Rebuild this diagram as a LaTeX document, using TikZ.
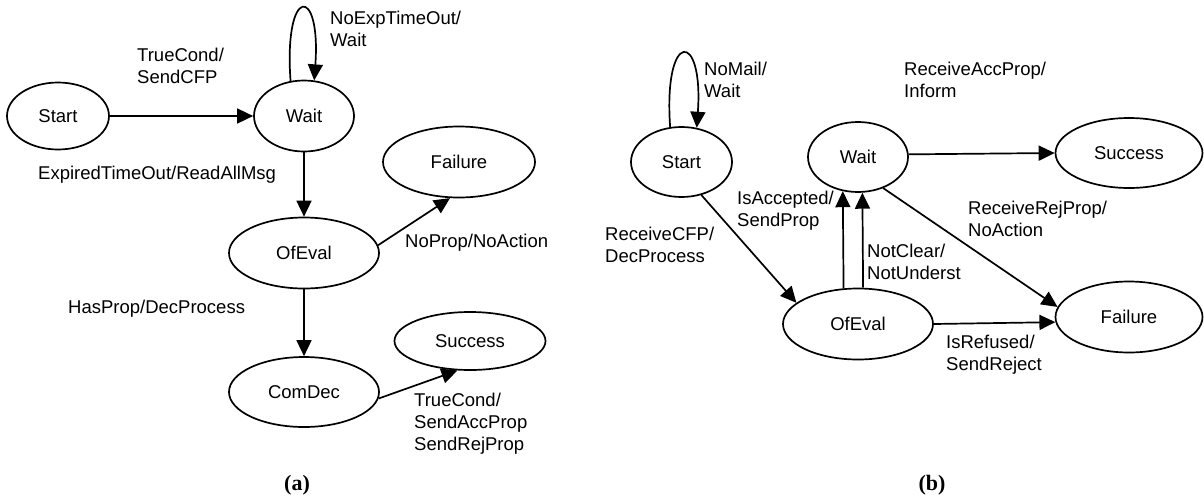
\documentclass[tikz,border=0pt]{standalone}
\usepackage{fontspec}
\setmainfont{Liberation Sans}
\newfontfamily\capfont{Liberation Serif}
\usetikzlibrary{shapes.geometric,arrows.meta}
\begin{document}
\begin{tikzpicture}[x=1pt,y=-1pt,
  state/.style={draw,ellipse,line width=1.7pt,inner sep=0pt,font=\fontsize{18.5}{22}\selectfont},
  lbl/.style={anchor=west,align=left,inner sep=0pt,font=\fontsize{18.5}{22}\selectfont},
  captext/.style={inner sep=0pt,font=\capfont\bfseries\fontsize{22}{26}\selectfont},
  arr/.style={line width=1.7pt,-{Triangle[length=16pt,width=15pt]}}]
\useasboundingbox (0,0) rectangle (1204,498);
% ---------- (a) ----------
\node[state,minimum width=102pt,minimum height=67pt] (aStart) at (58,116) {Start};
\node[state,minimum width=100pt,minimum height=71pt] (aWait) at (304,116) {Wait};
\node[state,minimum width=150pt,minimum height=71pt] (aOfEval) at (304,253) {OfEval};
\node[state,minimum width=152pt,minimum height=71pt] (aFailure) at (459,162) {Failure};
\node[state,minimum width=150pt,minimum height=70pt] (aComDec) at (304,392) {ComDec};
\node[state,minimum width=151pt,minimum height=58pt] (aSuccess) at (470,341) {Success};
\draw[arr] (aStart) -- (aWait);
\draw[arr] (aWait.111) .. controls +(-7,-96) and +(7,-96) .. (aWait.74);
\draw[arr] (aWait) -- (aOfEval);
\draw[arr] (aOfEval.6) -- (aFailure.256);
\draw[arr] (aOfEval) -- (aComDec);
\draw[arr] (aComDec.355) -- (aSuccess.247);
\node[lbl] (la1) at (137,66) {TrueCond/\\SendCFP};
\node[lbl] (la2) at (330,29) {NoExpTimeOut/\\Wait};
\node[lbl] (la3) at (38,175) {ExpiredTimeOut/ReadAllMsg};
\node[lbl] (la4) at (405,243) {NoProp/NoAction};
\node[lbl] (la5) at (68,309) {HasProp/DecProcess};
\node[lbl] (la6) at (414,424) {TrueCond/\\SendAccProp\\SendRejProp};
\node[captext] (capa) at (297,485) {(a)};
% ---------- (b) ----------
\node[state,minimum width=101pt,minimum height=70pt] (bStart) at (681.5,162) {Start};
\node[state,minimum width=100pt,minimum height=70pt] (bWait) at (858,157) {Wait};
\node[state,minimum width=147pt,minimum height=70pt] (bSuccess) at (1129,153) {Success};
\node[state,minimum width=150pt,minimum height=71pt] (bOfEval) at (858,324) {OfEval};
\node[state,minimum width=147pt,minimum height=71pt] (bFailure) at (1129,317) {Failure};
\draw[arr] (bStart.108) .. controls +(-7,-98) and +(7,-98) .. (bStart.66);
\draw[arr] (bWait.3) -- (bSuccess.west);
\draw[arr] (bStart.301.6) -- (bOfEval.161.7);
\draw[arr] (bOfEval.112.8) -- (bWait.246.5);
\draw[arr] (bOfEval.82.4) -- (bWait.277.7);
\draw[arr] (bWait.309.5) -- (bFailure.172.6);
\draw[arr] (bOfEval.east) -- (bFailure.184.7);
\node[lbl] (lb1) at (704,80) {NoMail/\\Wait};
\node[lbl] (lb2) at (904,80) {ReceiveAccProp/\\Inform};
\node[lbl] (lb3) at (737,211) {IsAccepted/\\SendProp};
\node[lbl] (lb4) at (605,245) {ReceiveCFP/\\DecProcess};
\node[lbl] (lb5) at (968,219) {ReceiveRejProp/\\NoAction};
\node[lbl] (lb6) at (867,262) {NotClear/\\NotUnderst};
\node[lbl] (lb7) at (946,355) {IsRefused/\\SendReject};
\node[captext] (capb) at (932,485) {(b)};
\end{tikzpicture}
\end{document}
